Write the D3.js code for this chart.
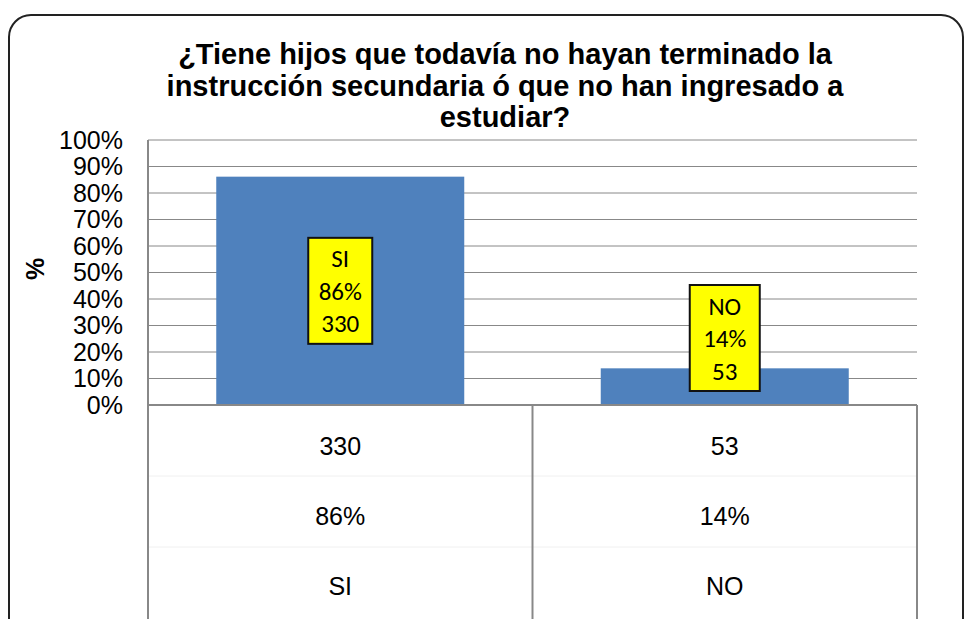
<!DOCTYPE html>
<html>
<head>
<meta charset="utf-8">
<script src="https://cdn.jsdelivr.net/npm/d3@7"></script>
<style>
  body { margin: 0; background: #fff; }
  svg { display: block; font-family: Arial, "Liberation Sans", sans-serif; }
</style>
</head>
<body>
<svg id="chart" width="966" height="619"></svg>
<script>
// data
var categories = ['SI', 'NO'];
var counts = [330, 53];
var yTicks = [0, 0.1, 0.2, 0.3, 0.4, 0.5, 0.6, 0.7, 0.8, 0.9, 1];
var titleLines = [
  '¿Tiene hijos que todavía no hayan terminado la',
  'instrucción secundaria ó que no han ingresado a',
  'estudiar?'
];

var total = d3.sum(counts);
var pct = counts.map(function(c) { return c / total; });
var fmt = d3.format('.0%');

var svg = d3.select('#chart');
var plotL = 148, plotR = 917, plotT = 140, plotB = 405;
var rowH = 71;

// outer frame (rounded, runs off the bottom of the picture)
svg.append('rect')
  .attr('x', 9).attr('y', 15)
  .attr('width', 954).attr('height', 640)
  .attr('rx', 22).attr('ry', 22)
  .attr('fill', '#fff')
  .attr('stroke', '#222').attr('stroke-width', 2);

// title
svg.append('text')
  .attr('text-anchor', 'middle')
  .attr('font-weight', 'bold')
  .attr('font-size', 29)
  .selectAll('tspan')
  .data(titleLines)
  .enter().append('tspan')
  .attr('x', 505)
  .attr('y', function(d, i) { return 64 + i * 31.5; })
  .text(function(d) { return d; });

var x = d3.scaleBand()
  .domain(categories)
  .range([plotL, plotR])
  .paddingInner(0.355)
  .paddingOuter(0.1775);

var y = d3.scaleLinear().domain([0, 1]).range([plotB, plotT]);

// gridlines
svg.append('g')
  .selectAll('line')
  .data(yTicks.slice(1))
  .enter().append('line')
  .attr('x1', plotL).attr('x2', plotR)
  .attr('y1', function(d) { return y(d); })
  .attr('y2', function(d) { return y(d); })
  .attr('stroke', '#888').attr('stroke-width', 1);

// y axis labels
var yAxis = d3.axisLeft(y).tickValues(yTicks).tickFormat(fmt).tickSize(0).tickPadding(25);
svg.append('g')
  .attr('transform', 'translate(' + plotL + ',0)')
  .call(yAxis)
  .call(function(g) { g.select('.domain').remove(); })
  .selectAll('text')
  .attr('font-size', 25)
  .attr('font-family', 'Arial, "Liberation Sans", sans-serif')
  .attr('fill', '#000');

// axis title
svg.append('text')
  .attr('transform', 'translate(44,269) rotate(-90)')
  .attr('text-anchor', 'middle')
  .attr('font-weight', 'bold')
  .attr('font-size', 25)
  .text('%');

// bars
svg.append('g')
  .selectAll('rect')
  .data(categories)
  .enter().append('rect')
  .attr('x', function(d) { return x(d); })
  .attr('y', function(d, i) { return y(pct[i]); })
  .attr('width', x.bandwidth())
  .attr('height', function(d, i) { return y(0) - y(pct[i]); })
  .attr('fill', '#4F81BD');

// data table lines
var tableB = plotB + rowH * 3;
var g = svg.append('g');
[1, 2].forEach(function(r) {
  g.append('line')
    .attr('x1', plotL).attr('x2', plotR)
    .attr('y1', plotB + rowH * r).attr('y2', plotB + rowH * r)
    .attr('stroke', '#f0f0f0').attr('stroke-width', 1);
});
g.append('line')
  .attr('x1', plotL).attr('x2', plotR)
  .attr('y1', plotB).attr('y2', plotB)
  .attr('stroke', '#888').attr('stroke-width', 2);
var step = x.step();
[plotL, plotL + step, plotR].forEach(function(vx) {
  g.append('line')
    .attr('x1', vx).attr('x2', vx)
    .attr('y1', vx === plotL ? plotT : plotB).attr('y2', tableB + 10)
    .attr('stroke', '#888').attr('stroke-width', 2);
});

// data table text
var rows = [
  function(i) { return counts[i]; },
  function(i) { return fmt(pct[i]); },
  function(i) { return categories[i]; }
];
rows.forEach(function(fn, r) {
  svg.append('g')
    .selectAll('text')
    .data(categories)
    .enter().append('text')
    .attr('x', function(d) { return x(d) + x.bandwidth() / 2; })
    .attr('y', 455 + r * 70)
    .attr('text-anchor', 'middle')
    .attr('font-size', 25)
    .text(function(d, i) { return fn(i); });
});

// data labels (yellow boxes)
var boxW = 64, boxH = 106, lineH = 32.5;
categories.forEach(function(c, i) {
  var cx = x(c) + x.bandwidth() / 2;
  var cy = Math.min((y(pct[i]) + y(0)) / 2, y(0) - 14 - boxH / 2);
  var w = i === 1 ? 70 : boxW;
  var lbl = svg.append('g').attr('transform', 'translate(' + cx + ',' + cy + ')');
  lbl.append('rect')
    .attr('x', -w / 2).attr('y', -boxH / 2)
    .attr('width', w).attr('height', boxH)
    .attr('fill', '#ffff00')
    .attr('stroke', '#111').attr('stroke-width', 2);
  lbl.append('text')
    .attr('text-anchor', 'middle')
    .attr('font-family', 'Carlito, Calibri, Lato, sans-serif')
    .attr('font-size', 25)
    .selectAll('tspan')
    .data([c, fmt(pct[i]), counts[i]])
    .enter().append('tspan')
    .attr('x', 0)
    .attr('y', function(d, k) { return (k - 1) * lineH + 9; })
    .text(function(d) { return d; });
});
</script>
</body>
</html>
